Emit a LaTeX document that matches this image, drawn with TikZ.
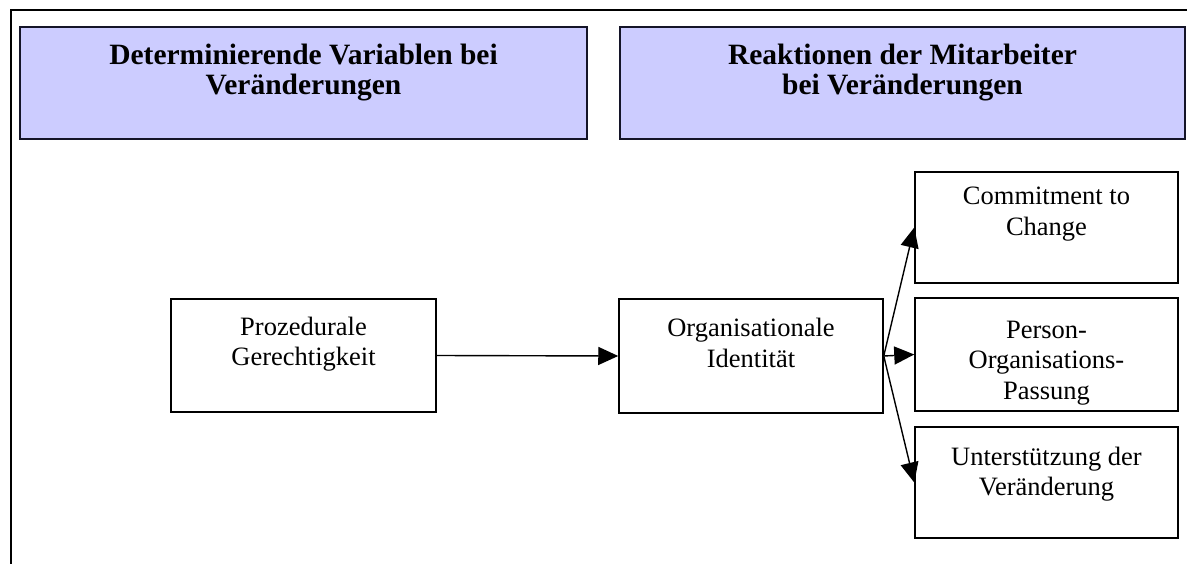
\documentclass[tikz,border=0pt]{standalone}
\usepackage{fontspec}
\setmainfont{Liberation Serif}
\usetikzlibrary{arrows.meta}
\definecolor{hdrfill}{RGB}{204,204,255}
\definecolor{hdrline}{RGB}{20,20,40}
\newcommand\boxcontent[4]{\parbox[c][#1pt][t]{#2pt}{\centering\fontsize{26.5}{30.5}\selectfont\rule{0pt}{#3pt}#4}}
\newcommand\hdrcontent[4]{\parbox[c][#1pt][t]{#2pt}{\centering\bfseries\fontsize{29.5}{30}\selectfont\rule{0pt}{#3pt}#4}}
\begin{document}
\begin{tikzpicture}[x=1pt,y=-1pt,
  box/.style={draw=black,line width=1.5pt,inner sep=0pt,fill=white},
  hdr/.style={draw=hdrline,line width=2pt,fill=hdrfill,inner sep=0pt},
  conn/.style={line width=1.4pt,-{Triangle[length=20pt,width=18pt]}},
  frameline/.style={line width=2pt}]
\useasboundingbox (0,0) rectangle (1187,564);
\draw[frameline] (10.5,564) -- (10.5,10.5) -- (1187,10.5);
\node[hdr] (hL) at (303.5,83) {\hdrcontent{112}{567}{38}{Determinierende Variablen bei\\Veränderungen}};
\node[hdr] (hR) at (902.5,83) {\hdrcontent{112}{565}{38}{Reaktionen der Mitarbeiter\\bei Veränderungen}};
\node[box] (pg) at (303.5,355.5) {\boxcontent{113}{265}{36}{Prozedurale\\Gerechtigkeit}};
\node[box] (oi) at (751,356) {\boxcontent{114}{264}{38}{Organisationale\\Identität}};
\node[box] (cc) at (1046.5,227.5) {\boxcontent{111}{263}{33}{Commitment to\\Change}};
\node[box] (po) at (1046.5,354.5) {\boxcontent{113}{263}{40}{Person-\\Organisations-\\Passung}};
\node[box] (ud) at (1046.5,482.5) {\boxcontent{111}{263}{38}{Unterstützung der\\Veränderung}};
\draw[conn] (pg.east) -- (oi.west);
\draw[conn] (oi.east) -- (cc.west);
\draw[conn] (oi.east) -- (po.west);
\draw[conn] (oi.east) -- (ud.west);
\end{tikzpicture}
\end{document}
